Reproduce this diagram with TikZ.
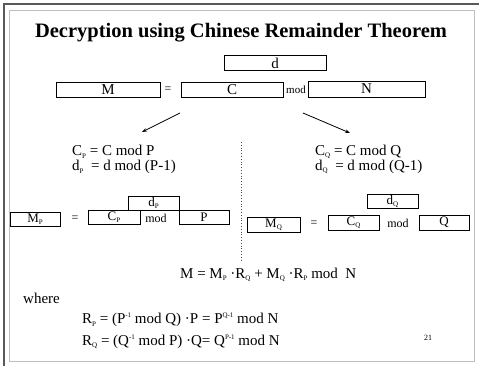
\documentclass[tikz,border=0pt]{standalone}
\usepackage{fontspec}
\setmainfont{Liberation Serif}
\usetikzlibrary{arrows.meta}
% small lowered / raised letters as on the slide
\newcommand{\lo}[1]{\raisebox{-0.35ex}{\fontsize{7}{7}\selectfont #1}}
\newcommand{\hi}[1]{\raisebox{0.85ex}{\fontsize{7}{7}\selectfont #1}}
\newcommand{\dotop}{\textperiodcentered}

\begin{document}
\begin{tikzpicture}[x=1pt, y=-1pt,
    box/.style={draw, line width=0.8pt, inner sep=0pt, minimum height=15pt, font=\fontsize{15}{15}\selectfont},
    lowbox/.style={box, minimum height=14pt, font=\fontsize{13}{13}\selectfont},
    small/.style={inner sep=0pt, font=\fontsize{12}{12}\selectfont},
    line/.style={inner sep=0pt, anchor=west, font=\fontsize{15}{15}\selectfont},
    >={Stealth[length=5pt, width=3.5pt]}]
    \useasboundingbox (0,0) rectangle (479,366);
    % Frame
    \draw[black!65, line width=1.6pt] (479,4) -- (4,4) -- (4,366);
    \draw[black!25, line width=1pt] (9,11) rectangle (474,361);
    % Title
    \node (title) at (241,33) {\fontsize{20.5}{24}\selectfont\textbf{Decryption using Chinese Remainder Theorem}};
    % Top row
    \node[box, minimum width=102pt] (boxd) at (275,63) {d};
    \node[box, minimum width=104pt] (boxM) at (108,89.5) {M};
    \node[small] (eqTop) at (168,89.5) {=};
    \node[box, minimum width=102pt] (boxC) at (232,89.5) {C};
    \node[small, font=\fontsize{11}{11}\selectfont] (modTop) at (296,90) {mod};
    \node[box, minimum width=117pt, minimum height=16pt] (boxN) at (366.5,89) {N};
    % Split arrows
    \coordinate (splitL) at (180,113);
    \coordinate (splitR) at (303,113);
    \coordinate (caseL) at (142,132);
    \coordinate (caseR) at (350,133);
    \draw[->, line width=0.8pt] (splitL) -- (caseL);
    \draw[->, line width=0.8pt] (splitR) -- (caseR);
    % Left case
    \node[line] (cP) at (72,152) {C\lo{P} = C mod P};
    \node[line] (dP) at (72,167) {d\lo{P}\ \ = d mod (P-1)};
    \node[lowbox, minimum width=51pt] (boxdP) at (153.5,203) {d\lo{P}};
    \node[lowbox, minimum width=50pt] (boxMP) at (35,219) {M\lo{P}};
    \node[small] (eqP) at (75,219) {=};
    \node[lowbox, minimum width=52pt] (boxCP) at (114,217) {C\lo{P}};
    \node[small] (modP) at (156,218) {mod};
    \node[lowbox, minimum width=50pt] (boxP) at (204,217) {P};
    % Divider
    \draw[dotted, black!70, line width=0.8pt] (241,142) -- (241,262);
    % Right case
    \node[line] (cQ) at (315,152) {C\lo{Q} = C mod Q};
    \node[line] (dQ) at (315,167) {d\lo{Q}\ \ = d mod (Q-1)};
    \node[lowbox, minimum width=51pt] (boxdQ) at (392.5,201.5) {d\lo{Q}};
    \node[lowbox, minimum width=53pt, minimum height=15pt] (boxMQ) at (273.5,224.5) {M\lo{Q}};
    \node[small] (eqQ) at (314,224) {=};
    \node[lowbox, minimum width=51pt, minimum height=15pt] (boxCQ) at (353.5,222.5) {C\lo{Q}};
    \node[small] (modQ) at (398,223) {mod};
    \node[lowbox, minimum width=50pt, minimum height=15pt] (boxQ) at (444,222.5) {Q};
    % Recombination
    \node[line] (recomb) at (180,275) {M = M\lo{P} \dotop R\lo{Q} + M\lo{Q} \dotop R\lo{P} mod\ \ N};
    \node[line] (where) at (23,298) {where};
    \node[line] (rP) at (82,320) {R\lo{P} = (P\hi{-1} mod Q) \dotop P = P\hi{Q-1} mod N};
    \node[line] (rQ) at (82,342) {R\lo{Q} = (Q\hi{-1} mod P) \dotop Q= Q\hi{P-1} mod N};
    % Slide number
    \node[inner sep=0pt, font=\fontsize{8}{8}\selectfont] (page) at (428,338) {21};
\end{tikzpicture}
\end{document}
